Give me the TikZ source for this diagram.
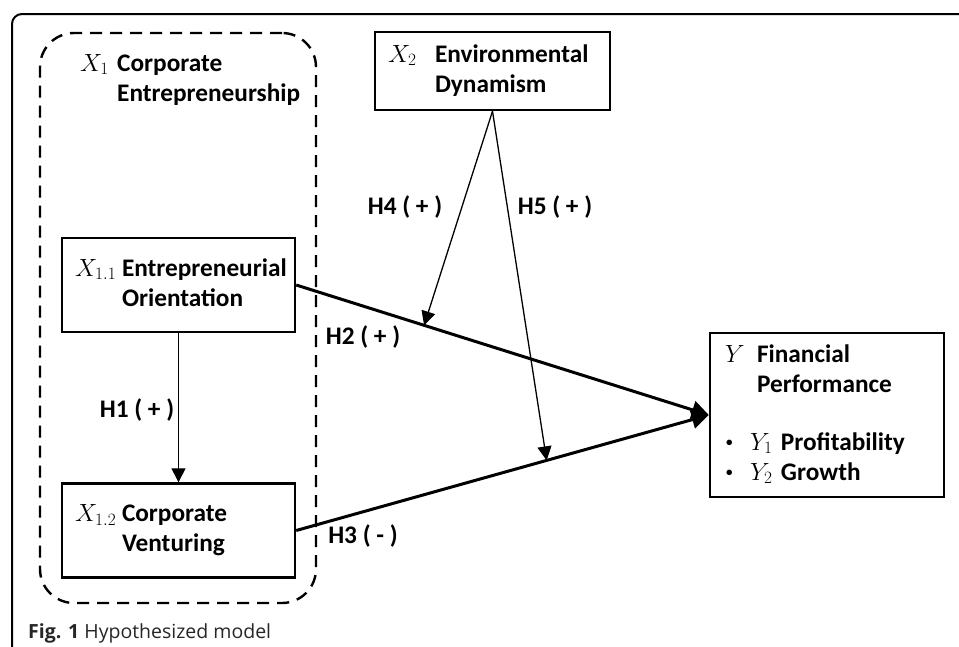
\documentclass[tikz,border=0pt]{standalone}
\usepackage{fontspec}
\setmainfont{Carlito}
\newfontfamily\capfont{Open Sans}
\usetikzlibrary{arrows.meta,positioning,calc}
\newcommand{\vbl}[4]{\noindent\begin{tabular}[t]{@{}p{#1}@{}l@{}}$#2$ & #3\\ & #4\end{tabular}}
\newcommand{\ydot}{\makebox[25pt][l]{\hspace{1pt}\raisebox{4pt}{\fontsize{13}{13}\selectfont\textbullet}}}

\begin{document}
\begin{tikzpicture}[x=1pt,y=-1pt,
   every node/.style={font=\bfseries\fontsize{25.3}{30}\selectfont},
   varbox/.style={draw, line width=2.4pt, minimum width=233pt, minimum height=94pt,
                  text width=207pt, inner xsep=13pt, inner ysep=0pt, align=left},
   grpbox/.style={draw, line width=2.4pt, dash pattern=on 12pt off 8pt, rounded corners=34pt,
                  minimum width=276pt, minimum height=570pt},
   lbl/.style={inner sep=0pt},
   thinarr/.style={line width=1.3pt, -{Triangle[length=14pt,width=14pt]}},
   thickarr/.style={line width=3pt, -{Triangle[length=17pt,width=18pt]}}]
   \useasboundingbox (0,0) rectangle (959,646);
   \draw[line width=2pt, rounded corners=10pt] (12,660) -- (12,14) -- (970,14);

   \node[grpbox] (X1) at (178,318) {};
   \node[lbl, anchor=base west] (X1t) at (80,71) {\vbl{37pt}{X_1}{Corporate}{Entrepreneurship}};
   \node[varbox] (X11) at (178.5,285) {\vbl{47pt}{X_{1.1}}{Entrepreneurial}{Orientation}};
   \node[varbox] (X12) at (178.5,530.5) {\vbl{47pt}{X_{1.2}}{Corporate}{Venturing}};
   \node[varbox, minimum width=235pt, text width=209pt, minimum height=78pt] (X2) at (492.5,71)
        {\vbl{47pt}{X_2}{Environmental}{Dynamism}};
   \node[varbox, minimum width=234pt, text width=204pt, inner xsep=15pt, minimum height=164pt] (Y) at (827,415)
        {\begin{tabular}{@{}p{32pt}@{}l@{}}$Y$ & Financial\\ & Performance\\[28pt]
         \multicolumn{2}{@{}l@{}}{\ydot$Y_1$ Profitability}\\
         \multicolumn{2}{@{}l@{}}{\ydot$Y_2$ Growth}\end{tabular}};

   \coordinate (m4) at ($(X11.east)!0.31!(Y.west)$);
   \coordinate (m5) at ($(X12.east)!0.607!(Y.west)$);

   \draw[thickarr] (X11.east) -- (Y.west);
   \draw[thickarr] (X12.east) -- (Y.west);
   \draw[thinarr] (X11) -- (X12);
   \draw[thinarr] (X2.south) -- (m4);
   \draw[thinarr] (X2.south) -- (m5);

   \node[lbl] (h1) at (137,410) {H1 ( + )};
   \node[lbl] (h2) at (363,337) {H2 ( + )};
   \node[lbl] (h3) at (363,536) {H3 ( - )};
   \node[lbl] (h4) at (405,207) {H4 ( + )};
   \node[lbl] (h5) at (555,207) {H5 ( + )};

   \node[lbl, anchor=base west, font=\capfont\fontsize{19.5}{24}\selectfont, text=black!85] (cap) at (28,638)
        {\textbf{Fig. 1} Hypothesized model};
\end{tikzpicture}
\end{document}
